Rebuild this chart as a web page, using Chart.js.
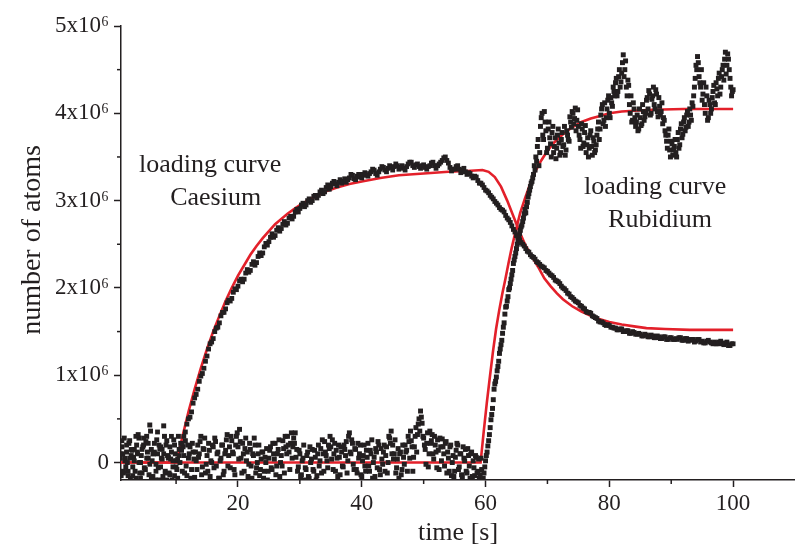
<!DOCTYPE html>
<html><head><meta charset="utf-8">
<script src="https://cdn.jsdelivr.net/npm/chart.js@4.4.1/dist/chart.umd.min.js"></script>
<style>html,body{margin:0;padding:0;background:#fff}canvas{display:block}</style>
</head><body>
<canvas id="c" width="795" height="549"></canvas>
<script>
// ---- axis ticks ----
const xTicksMajor = [20, 40, 60, 80, 100];
const xTicksMinor = [10, 30, 50, 70, 90];
const yTicksMajor = [0, 1, 2, 3, 4, 5];          // units of 10^6 atoms
const yTicksMinor = [0.5, 1.5, 2.5, 3.5, 4.5];

// ---- measured data: Caesium (number of atoms, 10^6), sampled every 0.25 s from t = 1 s ----
const csStart = 1, csStep = 0.25;
const csData = [
  0.1, 0.25, -0.12, 0.05, 0.2, -0.1, 0.05, 0.15,        // 1
  -0.15, 0.02, 0.3, 0.12, 0.0, -0.18, 0.15, 0.28,       // 3
  -0.08, 0.05, 0.22, -0.02, -0.18, 0.1, 0.12, -0.1,     // 5
  0.35, 0.2, -0.05, 0.15, 0.1, -0.12, -0.2, 0.05,       // 7
  0.18, 0.3, 0.02, -0.15, -0.05, 0.04, 0.08, 0.16,      // 9
  0.22, 0.3, 0.35, 0.44, 0.5, 0.52, 0.58, 0.68,         // 11
  0.74, 0.78, 0.84, 0.93, 0.99, 1.02, 1.08, 1.16,       // 13
  1.22, 1.3, 1.36, 1.38, 1.42, 1.5, 1.54, 1.55,         // 15
  1.6, 1.68, 1.72, 1.72, 1.76, 1.83, 1.86, 1.85,        // 17
  1.88, 1.95, 1.99, 1.98, 2.02, 2.08, 2.1, 2.07,        // 19
  2.1, 2.17, 2.21, 2.18, 2.2, 2.27, 2.3, 2.26,          // 21
  2.29, 2.36, 2.4, 2.37, 2.4, 2.47, 2.51, 2.49,         // 23
  2.53, 2.58, 2.62, 2.58, 2.6, 2.66, 2.69, 2.65,        // 25
  2.68, 2.73, 2.76, 2.72, 2.74, 2.8, 2.82, 2.79,        // 27
  2.82, 2.87, 2.9, 2.87, 2.91, 2.95, 2.97, 2.93,        // 29
  2.95, 3.0, 3.02, 2.98, 3.0, 3.05, 3.06, 3.03,         // 31
  3.06, 3.1, 3.12, 3.08, 3.1, 3.15, 3.18, 3.13,         // 33
  3.16, 3.2, 3.22, 3.19, 3.17, 3.21, 3.24, 3.2,         // 35
  3.22, 3.25, 3.21, 3.24, 3.26, 3.3, 3.29, 3.25,        // 37
  3.24, 3.28, 3.3, 3.27, 3.26, 3.3, 3.32, 3.29,         // 39
  3.28, 3.31, 3.33, 3.36, 3.35, 3.31, 3.29, 3.33,       // 41
  3.36, 3.39, 3.38, 3.35, 3.33, 3.37, 3.4, 3.38,        // 43
  3.35, 3.39, 3.42, 3.4, 3.36, 3.38, 3.4, 3.37,         // 45
  3.35, 3.39, 3.42, 3.44, 3.44, 3.4, 3.38, 3.41,        // 47
  3.42, 3.39, 3.37, 3.4, 3.41, 3.38, 3.36, 3.39,        // 49
  3.4, 3.43, 3.44, 3.4, 3.37, 3.4, 3.42, 3.44,          // 51
  3.46, 3.49, 3.5, 3.46, 3.43, 3.38, 3.34, 3.36,        // 53
  3.36, 3.39, 3.4, 3.36, 3.32, 3.35, 3.37, 3.33,        // 55
  3.3, 3.32, 3.31, 3.28, 3.26, 3.28, 3.27, 3.23,        // 57
  3.2, 3.2, 3.18, 3.15, 3.12, 3.11, 3.09, 3.06,         // 59
  3.04, 3.02, 2.99, 2.97, 2.95, 2.92, 2.9, 2.89,        // 61
  2.87, 2.83, 2.8, 2.78, 2.75, 2.71, 2.67, 2.64,        // 63
  2.6, 2.58, 2.55, 2.52, 2.5, 2.48, 2.45, 2.42,         // 65
  2.41, 2.38, 2.36, 2.35, 2.33, 2.3, 2.29, 2.27,        // 67
  2.25, 2.24, 2.23, 2.2, 2.19, 2.17, 2.15, 2.14,        // 69
  2.12, 2.09, 2.08, 2.07, 2.05, 2.02, 2.0, 1.99,        // 71
  1.97, 1.94, 1.93, 1.9, 1.89, 1.87, 1.85, 1.84,        // 73
  1.83, 1.8, 1.79, 1.77, 1.76, 1.73, 1.72, 1.72,        // 75
  1.71, 1.68, 1.67, 1.66, 1.65, 1.62, 1.61, 1.61,       // 77
  1.6, 1.58, 1.57, 1.58, 1.57, 1.55, 1.55, 1.54,        // 79
  1.54, 1.52, 1.52, 1.53, 1.53, 1.5, 1.5, 1.51,         // 81
  1.51, 1.48, 1.48, 1.5, 1.49, 1.47, 1.47, 1.48,        // 83
  1.47, 1.45, 1.45, 1.47, 1.46, 1.44, 1.44, 1.46,       // 85
  1.45, 1.43, 1.43, 1.45, 1.44, 1.42, 1.42, 1.44,       // 87
  1.44, 1.41, 1.41, 1.43, 1.43, 1.41, 1.41, 1.42,       // 89
  1.41, 1.43, 1.43, 1.4, 1.4, 1.42, 1.42, 1.39,         // 91
  1.4, 1.41, 1.41, 1.38, 1.39, 1.41, 1.41, 1.38,        // 93
  1.39, 1.37, 1.37, 1.39, 1.4, 1.38, 1.37, 1.36,        // 95
  1.38, 1.36, 1.36, 1.38, 1.39, 1.36, 1.35, 1.37,       // 97
  1.38, 1.34, 1.34, 1.36, 1.36                          // 99
];

// ---- measured data: Rubidium (10^6), sampled every 0.25 s from t = 1 s ----
const rbStart = 1, rbStep = 0.25;
const rbData = [
  0.05, 0.18, -0.1, 0.02,   0.12, -0.15, 0.25, 0.08,
  -0.05, 0.15, -0.18, 0.1,  0.28, 0.0, -0.12, 0.2,
  -0.08, 0.3, 0.05, 0.43,   0.15, -0.16, 0.22, -0.02,
  0.1, -0.2, 0.18, 0.04,    0.42, -0.1, 0.25, 0.06,
  -0.14, 0.12, -0.05, 0.2,  0.02, -0.18, 0.15, 0.22,
  -0.1, 0.08, 0.25, -0.15,  0.05, 0.18, -0.08, 0.12,
  -0.17, 0.02, 0.2, 0.1,    0.3, -0.05, 0.15, -0.12,
  0.08, 0.22, -0.16, 0.0,   0.18, 0.28, -0.04, 0.12,
  -0.18, 0.05, 0.2, -0.1,   0.14, 0.32, 0.08, -0.06,
  0.25, 0.1, -0.14, 0.3,    0.18, 0.38, 0.05, 0.22,
  -0.1, 0.28, 0.12, -0.02,  0.15, -0.18, 0.08, 0.2,
  -0.06, 0.1, -0.15, 0.04,  0.12, -0.1, 0.0, -0.2,
  0.05, 0.18, -0.08, 0.1,   0.22, -0.04, 0.15, -0.16,
  0.08, 0.25, -0.12, 0.18,  0.3, 0.12, 0.22, 0.05,
  0.28, 0.34, 0.15, -0.05,  0.1, -0.14, 0.05, -0.2,
  -0.08, 0.12, -0.18, 0.0,  0.15, -0.1, 0.06, -0.15,
  0.2, 0.02, -0.12, 0.1,    0.24, 0.08, -0.06, 0.16,
  0.18, 0.26, 0.1, -0.1,    0.05, 0.2, -0.14, 0.12,
  -0.05, 0.15, 0.24, 0.02,  0.34, 0.1, 0.22, -0.08,
  0.15, -0.12, 0.05, 0.2,   -0.16, 0.08, -0.04, 0.14,
  0.22, -0.1, 0.1, -0.18,   0.06, 0.16, -0.06, 0.2,
  -0.14, 0.04, 0.12, -0.1,  0.18, 0.0, 0.28, 0.36,
  0.2, 0.1, -0.12, 0.04,    -0.18, 0.12, -0.08, 0.06,
  0.2, 0.14, 0.3, 0.05,     0.25, -0.1, 0.18, 0.4,
  0.32, 0.5, 0.59, 0.45,    0.28, 0.15, 0.22, -0.05,
  0.36, 0.25, 0.1, 0.3,     0.12, 0.26, -0.08, 0.18,
  0.27, 0.1, 0.22, -0.12,   0.05, 0.18, -0.15, 0.08,
  -0.1, 0.14, 0.2, -0.05,   0.1, -0.16, 0.05, 0.15,
  -0.12, 0.08, -0.18, 0.12, 0.02, -0.15, 0.06, -0.1,
  -0.18, 0.05, -0.2, -0.12, 0.02, 0.12, 0.25, 0.4,
  0.55, 0.72, 0.9, 0.98,    1.1, 1.25, 1.35, 1.48,
  1.6, 1.78, 1.85, 1.98,    2.05, 2.15, 2.28, 2.36,
  2.45, 2.55, 2.62, 2.7,    2.76, 2.85, 2.86, 2.98,
  3.08, 3.16, 3.22, 3.3,    3.35, 3.45, 3.7, 3.55,
  3.95, 3.75, 4.02, 3.8,    3.6, 3.9, 3.65, 3.78,
  3.55, 3.72, 3.6, 3.82,    3.52, 3.7, 3.62, 3.85,
  3.58, 3.75, 3.68, 3.9,    4.02, 3.88, 4.06, 3.92,
  3.85, 3.7, 3.88, 3.62,    3.78, 3.55, 3.72, 3.6,
  3.8, 3.52, 3.68, 3.58,    3.75, 3.9, 3.82, 4.05,
  3.88, 4.12, 3.95, 4.15,   4.0, 4.18, 4.08, 4.25,
  4.35, 4.2, 4.42, 4.3,     4.46, 4.67, 4.5, 4.3,
  4.38, 4.1, 4.2, 3.92,     4.05, 3.85, 3.98, 3.82,
  3.95, 3.88, 4.02, 3.96,   4.15, 4.05, 4.22, 4.0,
  4.2, 4.1, 4.27, 4.02,     4.18, 3.98, 4.12, 3.95,
  3.8, 3.68, 3.75, 3.58,    3.68, 3.52, 3.62, 3.55,
  3.7, 3.6, 3.82, 3.72,     3.9, 3.8, 3.98, 3.85,
  4.05, 3.92, 4.08, 4.3,    4.55, 4.65, 4.42, 4.3,
  4.15, 4.35, 4.0, 4.2,     3.95, 4.1, 4.05, 4.25,
  4.12, 4.35, 4.2, 4.46,    4.3, 4.5, 4.38, 4.7,
  4.55, 4.62, 4.4, 4.2,     4.27
];
// interleaved Rubidium readings (between the samples above), from t = 1.125 s every 0.25 s
const rbStart2 = 1.125;
const rbData2 = [
  -0.15, 0.1, 0.28, -0.05, 0.0, 0.22, -0.18, 0.14,
  0.06, -0.1, 0.2, 0.32, -0.12, 0.08, 0.18, -0.06,
  0.24, 0.12, -0.14, 0.36, 0.02, 0.1, -0.2, 0.26,
  -0.06, 0.16, 0.05, -0.16, 0.3, 0.2, 0.08, -0.12,
  0.04, -0.2, 0.26, 0.1, -0.08, 0.3, 0.0, 0.14,
  0.18, -0.12, -0.04, 0.2, 0.1, -0.18, 0.22, 0.04,
  0.12, -0.08, 0.06, 0.24, -0.14, 0.16, 0.28, -0.02,
  -0.1, 0.14, 0.02, 0.2, -0.06, 0.24, 0.1, -0.18,
  0.02, 0.2, -0.14, 0.1, 0.26, -0.04, 0.18, 0.3,
  0.12, -0.08, 0.2, 0.34, 0.04, 0.24, -0.12, 0.1,
  0.16, 0.02, -0.16, 0.22, -0.04, 0.1, 0.28, -0.12,
  0.0, 0.2, -0.08, 0.12, -0.18, 0.06, 0.16, -0.1,
  0.14, -0.06, 0.22, 0.04, -0.14, 0.1, 0.26, 0.0,
  -0.04, 0.16, 0.3, 0.1, 0.2, -0.08, 0.34, 0.18,
  0.22, 0.06, -0.1, 0.14, -0.16, 0.02, 0.2, -0.06,
  0.08, -0.16, 0.18, 0.04, -0.08, 0.14, -0.2, 0.1,
  -0.04, 0.16, 0.26, -0.1, 0.12, 0.02, 0.2, 0.3,
  0.04, -0.08, 0.22, 0.14, -0.16, 0.06, 0.18, -0.04,
  0.2, 0.08, -0.12, 0.3, 0.12, 0.26, -0.02, 0.16,
  -0.08, 0.22, 0.1, -0.14, 0.02, 0.2, -0.1, 0.06,
  -0.04, 0.14, 0.26, 0.0, -0.16, 0.12, 0.24, -0.08,
  0.16, -0.02, 0.2, 0.08, -0.12, 0.3, 0.22, 0.1,
  0.04, 0.26, -0.06, 0.16, 0.1, -0.14, 0.2, -0.02,
  0.12, -0.1, 0.24, 0.36, 0.18, 0.06, 0.3, 0.12,
  0.44, 0.36, 0.52, 0.3, 0.2, -0.02, 0.34, 0.1,
  0.22, 0.32, 0.04, 0.2, -0.06, 0.14, 0.28, 0.02,
  0.18, -0.04, 0.24, 0.12, -0.1, 0.2, 0.0, -0.16,
  0.06, 0.22, -0.08, 0.1, -0.14, 0.18, 0.02, -0.1,
  0.16, -0.04, 0.1, -0.16, -0.06, 0.08, -0.12, 0.04,
  -0.14, -0.08,
  -0.18, -0.05, 0.08, 0.19, 0.32, 0.49, 0.62, 0.84, 0.93, 1.05,
  1.16, 1.3, 1.4, 1.55, 1.7, 1.79, 1.9, 2.0, 2.1, 2.2,
  2.32, 2.4, 2.5, 2.59, 2.66, 2.72, 2.8, 2.9, 2.93, 3.04,
  3.12, 3.2, 3.26, 3.4, 3.5,
  3.62, 3.4, 3.85, 4.0, 3.7, 3.9, 3.55, 3.82,
  3.72, 3.5, 3.85, 3.62, 3.48, 3.75, 3.66, 3.55,
  3.78, 3.64, 3.52, 3.8, 3.7, 3.96, 3.84, 4.0,
  3.94, 3.8, 4.04, 3.75, 3.6, 3.82, 3.66, 3.86,
  3.64, 3.5, 3.75, 3.62, 3.72, 3.55, 3.64, 3.82,
  3.7, 3.98, 4.1, 3.92, 3.85, 4.05, 4.2, 3.95,
  4.12, 4.3, 4.2, 4.4, 4.25, 4.5, 4.36, 4.58,
  4.42, 4.6, 4.2, 4.32, 4.0, 3.9, 4.12, 3.95,
  3.9, 3.8, 4.05, 3.86, 4.1, 3.92, 4.0, 4.18,
  4.26, 3.98, 4.16, 4.3, 4.05, 4.22, 3.96, 4.08,
  4.02, 3.88, 3.92, 3.75, 3.6, 3.82, 3.5, 3.65,
  3.58, 3.7, 3.5, 3.78, 3.64, 3.88, 3.76, 3.95,
  3.84, 4.02, 3.9, 3.98, 4.12, 4.2, 4.4, 4.5,
  4.58, 4.35, 4.5, 4.22, 4.1, 4.3, 3.92, 4.15,
  4.0, 4.18, 4.32, 4.1, 4.28, 4.4, 4.22, 4.42,
  4.55, 4.62, 4.45, 4.68, 4.5, 4.3, 4.25
];

// ---- fitted loading curves ----
const csFitT = [1, 10.1, 11, 12, 13, 14, 15, 16, 17, 18, 19, 20, 21, 22, 23, 24, 25, 26, 27, 28, 29, 30,
  32, 34, 36, 38, 40, 43, 46, 50, 54, 57, 59.5,
  60.5, 61.5, 62.5, 63.5, 64.5, 65.5, 66.5, 67.5, 68.5, 69.5, 70.5, 71.5, 72.5, 74, 75.5, 77, 78.5,
  80, 82, 84, 86, 89, 93, 100];
const csFitV = [0, 0, 0.29, 0.58, 0.84, 1.08, 1.30, 1.50, 1.68, 1.85, 2.0, 2.14, 2.26, 2.38, 2.48, 2.57, 2.65, 2.73, 2.79, 2.85, 2.9, 2.95,
  3.03, 3.1, 3.15, 3.19, 3.22, 3.26, 3.29, 3.31, 3.33, 3.34, 3.35,
  3.33, 3.27, 3.16, 3.0, 2.82, 2.64, 2.48, 2.36, 2.24, 2.11, 2.02, 1.94, 1.87, 1.79, 1.73, 1.68, 1.64,
  1.61, 1.58, 1.56, 1.54, 1.53, 1.52, 1.52];
const rbFitT = [1, 59.2, 59.7, 60.2, 60.7, 61.2, 61.7, 62.2, 62.7, 63.2, 63.7, 64.2, 64.9, 65.6, 66.4, 67.2,
  68, 69, 70, 71, 72.5, 74, 75.5, 77, 78.5, 80, 82, 84, 87, 92, 100];
const rbFitV = [0, 0, 0.35, 0.68, 0.98, 1.27, 1.53, 1.74, 1.93, 2.1, 2.28, 2.45, 2.66, 2.86, 3.03, 3.19,
  3.33, 3.46, 3.57, 3.66, 3.76, 3.84, 3.9, 3.94, 3.97, 4.0, 4.02, 4.03, 4.04, 4.05, 4.05];

// ---- text ----
const xTitle = 'time [s]';
const yTitle = 'number of atoms';
const annotations = [
  { text: 'loading curve', t: 15.5, v: 3.33 },
  { text: 'Caesium',       t: 16.4, v: 2.95 },
  { text: 'loading curve', t: 87.4, v: 3.08 },
  { text: 'Rubidium',      t: 88.2, v: 2.70 }
];

const INK = '#231f20', RED = '#e3202a', SERIF = '"Liberation Serif", "Times New Roman", serif';

const toPts = (arr, t0, dt) => arr.map((v, i) => ({ x: t0 + i * dt, y: v }));
const zipPts = (ts, vs) => ts.map((t, i) => ({ x: t, y: vs[i] }));

const extras = {
  id: 'extras',
  afterDraw(chart) {
    const ctx = chart.ctx, xs = chart.scales.x, ys = chart.scales.y;
    ctx.save();
    ctx.strokeStyle = INK; ctx.lineWidth = 1.5;
    const axisY = chart.chartArea.bottom, axisX = chart.chartArea.left;
    xTicksMinor.forEach(v => {
      const p = xs.getPixelForValue(v);
      ctx.beginPath(); ctx.moveTo(p, axisY); ctx.lineTo(p, axisY + 4); ctx.stroke();
    });
    yTicksMinor.forEach(v => {
      const p = ys.getPixelForValue(v);
      ctx.beginPath(); ctx.moveTo(axisX, p); ctx.lineTo(axisX - 4, p); ctx.stroke();
    });
    ctx.fillStyle = INK;
    ctx.font = '26px ' + SERIF;
    ctx.textAlign = 'center'; ctx.textBaseline = 'alphabetic';
    annotations.forEach(a => ctx.fillText(a.text, xs.getPixelForValue(a.t), ys.getPixelForValue(a.v)));
    // y-axis title
    ctx.save();
    ctx.translate(33, (ys.getPixelForValue(5) + ys.getPixelForValue(-0.2)) / 2 - 13);
    ctx.rotate(-Math.PI / 2);
    ctx.font = '28px ' + SERIF;
    ctx.textBaseline = 'middle';
    ctx.fillText(yTitle, 0, 0);
    ctx.restore();
    ctx.restore();
  }
};

new Chart(document.getElementById('c'), {
  type: 'scatter',
  data: {
    datasets: [
      { label: 'Caesium', data: toPts(csData, csStart, csStep), pointStyle: 'rect', pointRadius: 3.4,
        backgroundColor: INK, borderWidth: 0, showLine: false, clip: 0 },
      { label: 'Rubidium', data: toPts(rbData, rbStart, rbStep).concat(toPts(rbData2, rbStart2, rbStep)),
        pointStyle: 'rect', pointRadius: 3.5, backgroundColor: INK, borderWidth: 0, showLine: false, clip: 0 },
      { label: 'Caesium fit', data: zipPts(csFitT, csFitV), showLine: true, pointRadius: 0,
        borderColor: RED, borderWidth: 2.6, tension: 0, fill: false },
      { label: 'Rubidium fit', data: zipPts(rbFitT, rbFitV), showLine: true, pointRadius: 0,
        borderColor: RED, borderWidth: 2.6, tension: 0, fill: false }
    ]
  },
  options: {
    responsive: false, animation: false, devicePixelRatio: 1,
    layout: { padding: { left: 0, right: -7, top: 26, bottom: 0 }, autoPadding: false },
    plugins: { legend: { display: false }, tooltip: { enabled: false } },
    scales: {
      x: {
        type: 'linear', min: 1.1, max: 110,
        afterFit: s => { s.height = 69; },
        afterBuildTicks: s => { s.ticks = xTicksMajor.map(v => ({ value: v })); },
        grid: { display: true, drawOnChartArea: false, drawTicks: true, tickLength: 7, tickWidth: 1.5, tickColor: INK },
        border: { display: true, color: INK, width: 1.5 },
        ticks: { color: INK, padding: 3, font: { family: SERIF, size: 23 }, maxRotation: 0, autoSkip: false },
        title: { display: true, text: xTitle, color: INK, font: { family: SERIF, size: 26 }, padding: { bottom: 0 } }
      },
      y: {
        type: 'linear', min: -0.2, max: 5,
        afterFit: s => { s.width = 121; },
        afterBuildTicks: s => { s.ticks = yTicksMajor.map(v => ({ value: v })); },
        grid: { display: true, drawOnChartArea: false, drawTicks: true, tickLength: 7, tickWidth: 1.5, tickColor: INK },
        border: { display: true, color: INK, width: 1.5 },
        ticks: { color: INK, padding: 5, font: { family: SERIF, size: 23 }, autoSkip: false,
                 callback: v => v === 0 ? '0' : v + 'x10\u2076' },
        title: { display: false, text: yTitle }
      }
    }
  },
  plugins: [extras]
});
</script>
</body></html>
